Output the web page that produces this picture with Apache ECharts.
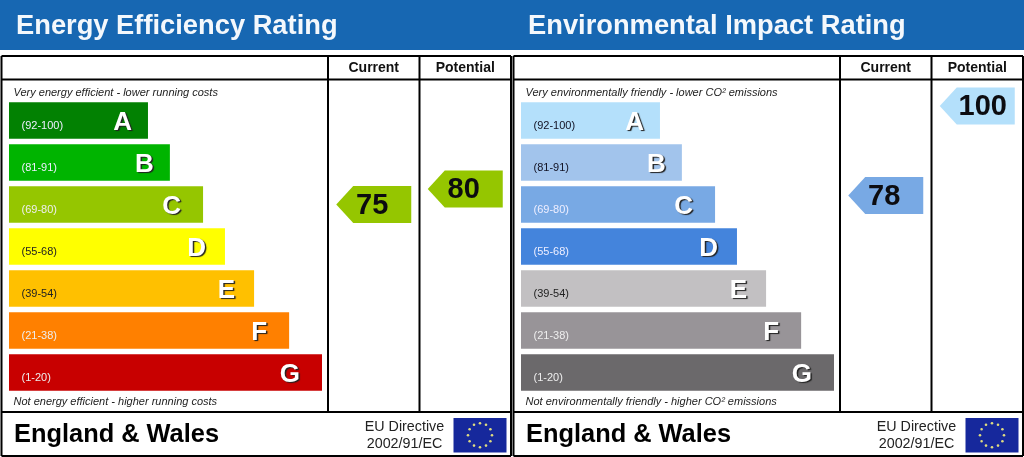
<!DOCTYPE html>
<html>
<head>
<meta charset="utf-8">
<title>Energy Efficiency and Environmental Impact Rating</title>
<style>html,body{margin:0;padding:0;background:#fff}#c{width:1024px;height:457px}</style>
<script src="https://cdn.jsdelivr.net/npm/echarts@6/dist/echarts.min.js"></script>
</head>
<body>
<div id="c"></div>
<script>
// ---- data ----
const bands = ['A', 'B', 'C', 'D', 'E', 'F', 'G'];
const ranges = ['(92-100)', '(81-91)', '(69-80)', '(55-68)', '(39-54)', '(21-38)', '(1-20)'];
// bar length as a percentage of the longest bar
const barLengths = [44.4, 51.4, 62, 69, 78.3, 89.5, 100];
const columns = ['Current', 'Potential'];
const energyRatings = [75, 80];
const impactRatings = [78, 100];
// vertical place of each rating on the band ladder (0 = top of A, 7 = bottom of G)
const energyLadder = [2.5, 2.13];
const impactLadder = [2.286, 0.155];

// ---- styles ----
const FONT = '"Liberation Sans", Arial, sans-serif';
const energyColors = ['#028102', '#00b400', '#95c600', '#ffff00', '#ffc000', '#ff8000', '#c80000'];
const impactColors = ['#b4e0fb', '#a2c4ec', '#78a9e4', '#4484dc', '#c2c0c2', '#989498', '#6b696b'];
const energyRangeInk = ['#eef', '#eef', '#eee', '#222', '#222', '#eee', '#eee'];
const impactRangeInk = ['#112', '#112', '#eef', '#eef', '#222', '#eee', '#eee'];
const letterInset = [16, 16, 22, 19, 19, 22, 22];
const PANELS = [
  {x: 0, title: 'Energy Efficiency Rating', top: 'Very energy efficient - lower running costs',
   bottom: 'Not energy efficient - higher running costs', colors: energyColors, ink: energyRangeInk,
   ratings: energyRatings, ladder: energyLadder, arrow: ['#95c600', '#95c600']},
  {x: 512, title: 'Environmental Impact Rating', top: 'Very environmentally friendly - lower CO² emissions',
   bottom: 'Not environmentally friendly - higher CO² emissions', colors: impactColors, ink: impactRangeInk,
   ratings: impactRatings, ladder: impactLadder, arrow: ['#78a9e4', '#b4e0fb']}
];

const grid = [], xAxis = [], yAxis = [], series = [], graphic = [], title = [];
graphic.push({type: 'rect', shape: {x: 0, y: 0, width: 1024, height: 50}, style: {fill: '#1767b2'}, z: -1});

PANELS.forEach((p, i) => {
  const ox = p.x;
  const line = (x1, y1, x2, y2, w) => graphic.push({type: 'line', shape: {x1: ox + x1, y1, x2: ox + x2, y2},
    style: {stroke: '#000', lineWidth: w || 2}});
  const txt = (x, y, text, font, align, fill) => graphic.push({type: 'text', x: ox + x, y,
    style: {text, font, textAlign: align || 'left', textVerticalAlign: 'middle', fill: fill || '#000'}});

  // frame
  line(1.5, 56, 511, 56); line(1.5, 456, 511, 456);
  line(1.5, 56, 1.5, 456); line(511, 56, 511, 456);
  line(1.5, 79.5, 511, 79.5); line(1.5, 412, 511, 412);
  line(328, 56, 328, 412); line(419.5, 56, 419.5, 412);

  title.push({text: p.title, left: ox + 11, top: 8,
    textStyle: {fontFamily: FONT, fontWeight: 'bold', fontSize: 27.3, color: '#f4f8fc'}});

  txt(13.5, 92.5, p.top, 'italic 11px ' + FONT, 'left', '#222');
  txt(13.5, 401.5, p.bottom, 'italic 11px ' + FONT, 'left', '#222');
  txt(14, 435, 'England & Wales', 'bold 25.4px ' + FONT);
  txt(404.5, 427, 'EU Directive', '14.3px ' + FONT, 'center', '#222');
  txt(404.5, 444.5, '2002/91/EC', '14.3px ' + FONT, 'center', '#222');

  // EU flag
  graphic.push({type: 'rect', shape: {x: ox + 453.5, y: 418, width: 53, height: 34.5}, style: {fill: '#16289c'}});
  for (let s = 0; s < 12; s++) {
    const a = s * Math.PI / 6;
    graphic.push({type: 'circle', shape: {cx: ox + 480 + 12 * Math.cos(a), cy: 435.2 + 12 * Math.sin(a), r: 1.3},
      style: {fill: '#e0dc80'}});
  }

  // bars
  const barIdx = i * 2, arrowIdx = i * 2 + 1;
  grid.push({left: ox + 9, top: 99.5, width: 313, height: 294});
  xAxis.push({gridIndex: barIdx, type: 'value', min: 0, max: 100, show: false});
  yAxis.push({gridIndex: barIdx, type: 'category', data: bands, inverse: true, show: false});
  series.push({
    type: 'bar', xAxisIndex: barIdx, yAxisIndex: barIdx, barWidth: 36.5, barGap: '-100%', silent: true,
    data: barLengths.map((v, k) => ({
      value: v, itemStyle: {color: p.colors[k]},
      label: {color: p.ink[k], formatter: ranges[k]}
    })),
    label: {show: true, position: 'insideLeft', distance: 12.5, offset: [0, 5], fontFamily: FONT, fontSize: 11}
  });
  series.push({
    type: 'bar', xAxisIndex: barIdx, yAxisIndex: barIdx, barWidth: 36.5, barGap: '-100%', silent: true,
    itemStyle: {color: 'transparent'},
    data: barLengths.map((v, k) => ({value: v, label: {distance: letterInset[k], formatter: bands[k]}})),
    label: {show: true, position: 'insideRight', offset: [0, 2], fontFamily: FONT, fontWeight: 'bold', fontSize: 26,
      color: '#fff', textShadowColor: '#222', textShadowBlur: 1, textShadowOffsetX: 1.5, textShadowOffsetY: 1.5}
  });

  // rating arrows
  grid.push({left: ox + 328, top: 99.5, width: 183, height: 294});
  xAxis.push({gridIndex: arrowIdx, type: 'category', data: columns, position: 'top',
    axisLine: {show: false}, axisTick: {show: false}, splitLine: {show: false},
    axisLabel: {show: true, margin: 24, fontFamily: FONT, fontWeight: 'bold', fontSize: 14, color: '#111', interval: 0}});
  yAxis.push({gridIndex: arrowIdx, type: 'value', min: 0, max: 7, inverse: true, show: false});
  series.push({
    type: 'custom', xAxisIndex: arrowIdx, yAxisIndex: arrowIdx, silent: true, clip: false,
    data: p.ratings.map((r, k) => [k, p.ladder[k], r]),
    encode: {x: 0, y: 1},
    renderItem(params, api) {
      const c = api.coord([api.value(0), api.value(1)]);
      const rating = api.value(2);
      const fill = p.arrow[params.dataIndex];
      const cx = c[0], cy = c[1];
      return {type: 'group', children: [
        {type: 'polygon', shape: {points: [[cx - 37.5, cy], [cx - 20.5, cy - 18.5], [cx + 37.5, cy - 18.5],
          [cx + 37.5, cy + 18.5], [cx - 20.5, cy + 18.5]]}, style: {fill}},
        {type: 'text', x: cx + (rating >= 100 ? 5.5 : -1.5), y: cy + 1,
          style: {text: String(rating), font: 'bold 29px ' + FONT, fill: '#0c0c10',
            textAlign: 'center', textVerticalAlign: 'middle'}}
      ]};
    }
  });
});

const chart = echarts.init(document.getElementById('c'), null, {renderer: 'canvas'});
chart.setOption({animation: false, backgroundColor: '#fff', title, grid, xAxis, yAxis, series, graphic});
</script>
</body>
</html>
